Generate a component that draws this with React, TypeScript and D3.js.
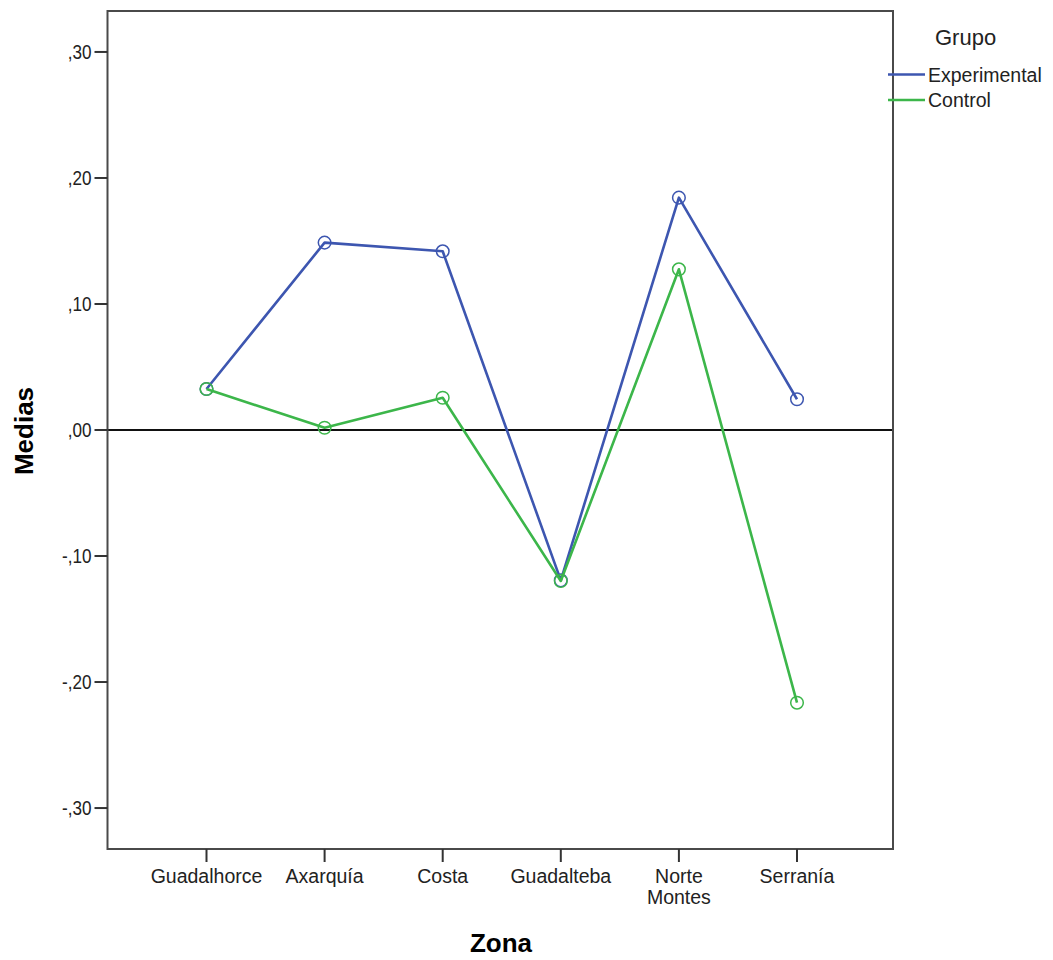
import React from "react";
import * as d3 from "d3";

const zones = ["Guadalhorce", "Axarquía", "Costa", "Guadalteba", "Norte Montes", "Serranía"];
const experimental = [0.0325, 0.1487, 0.1418, -0.1193, 0.1844, 0.0244];
const control = [0.0325, 0.0018, 0.0256, -0.1198, 0.1275, -0.2164];
const yTicks = [0.3, 0.2, 0.1, 0, -0.1, -0.2, -0.3];
const yTickLabels = [",30", ",20", ",10", ",00", "-,10", "-,20", "-,30"];
const seriesNames = ["Experimental", "Control"];
const seriesColors = ["#3d56b0", "#3cb64a"];

const W = 1053;
const H = 960;
const frame = { left: 107.5, right: 893, top: 11, bottom: 849 };
const font = "'Liberation Sans', Arial, sans-serif";

export default function App() {
  const x = d3.scalePoint<string>().domain(zones).range([206.5, 797]);
  const y = d3.scaleLinear().domain([-0.3325, 0.3325]).range([frame.bottom, frame.top]);
  const line = d3
    .line<number>()
    .x((_, i) => x(zones[i]) as number)
    .y((d) => y(d));
  const series = [experimental, control];

  return (
    <svg
      width={W}
      height={H}
      style={{ position: "absolute", left: 0, top: 0, background: "#fff" }}
      fontFamily={font}
    >
      <rect x={0} y={0} width={W} height={H} fill="#fff" />
      {/* zero reference line */}
      <line x1={frame.left} x2={frame.right} y1={y(0)} y2={y(0)} stroke="#111" strokeWidth={1.8} />
      {/* frame */}
      <rect
        x={frame.left}
        y={frame.top}
        width={frame.right - frame.left}
        height={frame.bottom - frame.top}
        fill="none"
        stroke="#4a4a4a"
        strokeWidth={2}
      />
      {/* y ticks */}
      {yTicks.map((t, i) => (
        <g key={"y" + i}>
          <line x1={frame.left - 13} x2={frame.left} y1={y(t)} y2={y(t)} stroke="#333" strokeWidth={2} />
          <text
            transform={`translate(${frame.left - 16}, ${y(t)}) scale(0.95, 1.1)`}
            dy="0.36em"
            textAnchor="end"
            fontSize={18}
            fill="#222"
          >
            {yTickLabels[i]}
          </text>
        </g>
      ))}
      {/* x ticks */}
      {zones.map((z) => {
        const parts = z === "Norte Montes" ? ["Norte", "Montes"] : [z];
        return (
          <g key={z}>
            <line x1={x(z)} x2={x(z)} y1={frame.bottom} y2={frame.bottom + 13} stroke="#333" strokeWidth={2} />
            <text x={x(z)} y={883} textAnchor="middle" fontSize={19.5} fill="#222">
              {parts.map((p, k) => (
                <tspan key={k} x={x(z)} dy={k === 0 ? 0 : 21}>
                  {p}
                </tspan>
              ))}
            </text>
          </g>
        );
      })}
      {/* series */}
      {series.map((s, si) => (
        <g key={"s" + si}>
          <path d={line(s) || ""} fill="none" stroke={seriesColors[si]} strokeWidth={2.6} strokeLinejoin="round" />
          {s.map((v, i) => (
            <circle
              key={i}
              cx={x(zones[i]) as number}
              cy={y(v)}
              r={6.3}
              fill="none"
              stroke={seriesColors[si]}
              strokeWidth={1.5}
            />
          ))}
        </g>
      ))}
      {/* axis titles */}
      <text x={501} y={952} textAnchor="middle" fontSize={26} fontWeight="bold" fill="#000">
        Zona
      </text>
      <text
        transform={`translate(33, 431) rotate(-90)`}
        textAnchor="middle"
        fontSize={26}
        fontWeight="bold"
        fill="#000"
      >
        Medias
      </text>
      {/* legend */}
      <text x={935} y={45} fontSize={22} fill="#222">
        Grupo
      </text>
      {seriesNames.map((n, i) => (
        <g key={n}>
          <line x1={888} x2={925} y1={74.5 + i * 25.5} y2={74.5 + i * 25.5} stroke={seriesColors[i]} strokeWidth={2.5} />
          <text x={928} y={75 + i * 25.5} dy="0.35em" fontSize={19.5} fill="#222">
            {n}
          </text>
        </g>
      ))}
    </svg>
  );
}
